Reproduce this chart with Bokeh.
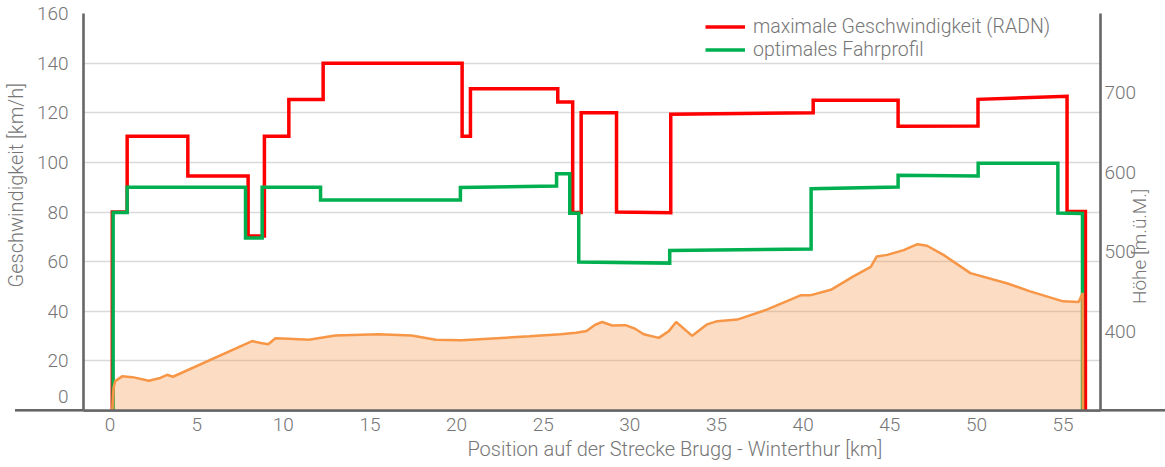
import math
from bokeh.plotting import figure
from bokeh.models import (Range1d, LinearAxis, FixedTicker, Legend, LegendItem)
from bokeh.embed import file_html
from bokeh.resources import INLINE

# ---------------- data ----------------
max_speed_km = [0.13, 0.13, 0.99, 0.99, 4.49, 4.49, 7.97, 7.97, 8.91, 8.91,
                10.32, 10.32, 12.30, 12.30, 20.32, 20.32, 20.80, 20.80, 25.84, 25.84,
                26.70, 26.70, 27.19, 27.19, 29.23, 29.23, 32.36, 32.36, 40.58, 40.58,
                45.48, 45.48, 50.09, 50.09, 55.23, 55.23, 56.29, 56.29]
max_speed_kmh = [0, 80, 80, 110.5, 110.5, 94.5, 94.5, 70.3, 70.3, 110.5,
                 110.5, 125.3, 125.3, 140, 140, 110.5, 110.5, 129.7, 129.7, 124.3,
                 124.3, 79.8, 79.8, 120, 120, 80, 79.7, 119.4, 120, 125,
                 125, 114.6, 114.7, 125.4, 126.6, 80.2, 80.2, 0]

opt_profile_km = [0.18, 0.18, 0.99, 0.99, 7.82, 7.82, 8.78, 8.78, 12.15, 12.15,
                  20.22, 20.22, 25.77, 25.77, 26.53, 26.53, 27.05, 27.05, 32.30, 32.30,
                  40.46, 40.46, 45.48, 45.48, 50.10, 50.10, 54.70, 54.70, 56.12, 56.12]
opt_profile_kmh = [0, 79.8, 79.8, 90, 90, 69.5, 69.5, 90, 90, 84.8,
                   84.8, 89.9, 90.5, 95.4, 95.4, 79.5, 79.5, 59.8, 59.4, 64.5,
                   65.1, 89.4, 90.1, 94.8, 94.5, 99.6, 99.6, 79.6, 79.4, 0]

elev_km = [0.13, 0.20, 0.30, 0.70, 1.30, 2.24, 2.90, 3.30, 3.63, 8.20,
           8.70, 9.13, 9.55, 10.30, 11.47, 13.00, 15.50, 17.40, 18.80, 20.30,
           24.20, 26.00, 26.90, 27.50, 28.00, 28.40, 28.98, 29.75, 30.30, 30.80,
           31.67, 32.25, 32.67, 33.60, 34.46, 35.04, 36.20, 37.90, 39.85, 40.40,
           41.60, 42.90, 43.90, 44.25, 44.85, 45.80, 46.60, 47.15, 48.10, 49.65,
           51.80, 53.10, 55.00, 55.90, 56.13, 56.15]
elev_m = [300, 328, 337, 343, 342, 337.5, 341, 345, 342.5, 387.5,
          385, 383.5, 391, 390.5, 389, 394.5, 396, 394.5, 389, 388.5,
          393.5, 396, 398, 400, 408, 411.5, 407, 407.5, 403, 396,
          391.5, 400, 411.5, 394, 408.5, 412.5, 414.5, 427, 445, 445,
          452, 469, 481, 494, 496, 502, 509.5, 507.5, 496, 473,
          460, 450, 437.5, 436.5, 448, 300]

x_ticks = [0, 5, 10, 15, 20, 25, 30, 35, 40, 45, 50, 55]
speed_ticks = [0, 20, 40, 60, 80, 100, 120, 140, 160]
height_ticks = [400, 500, 600, 700]

legend_labels = ["maximale Geschwindigkeit (RADN)", "optimales Fahrprofil"]
x_title = "Position auf der Strecke Brugg - Winterthur [km]"
y_title = "Geschwindigkeit [km/h]"
y2_title = "Höhe [m.ü.M.]"

# ---------------- styling ----------------
FONT = "Roboto Light"
TXT = "#767676"
AXC = "#666666"
NB = "\u00a0"

p = figure(width=1165, height=467,
           x_range=Range1d(-1.53, 57.16), y_range=Range1d(0, 160),
           output_backend="svg", toolbar_location=None,
           min_border_left=83, min_border_right=65,
           min_border_top=13, min_border_bottom=57,
           styles={"background": "linear-gradient(#666666, #666666) 15px 409.2px / 1150px 2.6px no-repeat"})
p.extra_y_ranges = {"elev": Range1d(300, 800)}
p.outline_line_color = None
p.background_fill_color = "white"
p.border_fill_alpha = 0

p.xgrid.visible = False
p.ygrid.grid_line_color = "#d9d9d9"
p.ygrid.grid_line_width = 1.6

r_red = p.line(max_speed_km, max_speed_kmh, line_color="#ff0000",
               line_width=3.5, line_join="miter")
r_green = p.line(opt_profile_km, opt_profile_kmh, line_color="#00b050",
                 line_width=3.5, line_join="miter")
p.varea(x=elev_km, y1=300, y2=elev_m, fill_color="#f79646", fill_alpha=0.33,
        y_range_name="elev")
p.line(elev_km, elev_m, line_color="#f79646", line_width=2.5,
       y_range_name="elev")

# axes
xax = p.below[0]
xax.ticker = FixedTicker(ticks=x_ticks)
xax.axis_label = NB * 34 + x_title

yax = p.left[0]
yax.ticker = FixedTicker(ticks=speed_ticks)
yax.major_label_overrides = {0: "0\n"}
yax.axis_label = NB * 11 + y_title

y2 = LinearAxis(y_range_name="elev", ticker=FixedTicker(ticks=height_ticks))
p.add_layout(y2, "right")
y2.axis_label_orientation = math.pi / 2
try:
    y2.axis_label_align = "start"
    y2.axis_label = NB * 23 + y2_title
except AttributeError:
    y2.axis_label = y2_title

for ax in (xax, yax, y2):
    ax.axis_line_color = AXC
    ax.axis_line_width = 2.6
    ax.major_tick_line_color = None
    ax.minor_tick_line_color = None
    ax.major_tick_out = 0
    ax.major_tick_in = 0
    ax.major_label_text_font = FONT
    ax.major_label_text_font_size = "19px"
    ax.major_label_text_color = TXT
    ax.axis_label_text_font = FONT
    ax.axis_label_text_font_size = "20px"
    ax.axis_label_text_color = TXT
    ax.axis_label_text_font_style = "normal"

y2.axis_label_text_font_size = "19px"
xax.major_label_standoff = 7
xax.axis_label_standoff = 3
yax.major_label_standoff = 15
yax.axis_label_standoff = 6
y2.major_label_standoff = 4
y2.axis_label_standoff = 0

legend = Legend(items=[LegendItem(label=legend_labels[0], renderers=[r_red]),
                       LegendItem(label=legend_labels[1], renderers=[r_green])],
                location=(622, 349.5), padding=0, margin=0, spacing=0,
                label_height=23, glyph_height=23, glyph_width=40,
                label_standoff=8, border_line_color=None,
                background_fill_alpha=0,
                label_text_font=FONT, label_text_font_size="19.5px",
                label_text_color=TXT)
p.add_layout(legend)

open("out.html", "w").write(file_html(p, INLINE))
